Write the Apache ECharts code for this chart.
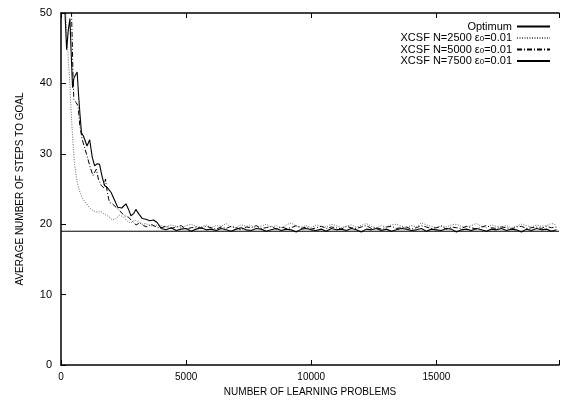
<!DOCTYPE html>
<html><head><meta charset="utf-8">
<script src="https://cdn.jsdelivr.net/npm/echarts@6/dist/echarts.min.js"></script>
<style>html,body{margin:0;padding:0;background:#fff}#c{width:562px;height:402px}</style>
</head><body><div id="c"></div>
<script>
var xTicks = [0, 5000, 10000, 15000];
var yTicks = [0, 10, 20, 30, 40, 50];
var optimumValue = 19;

var early2500X = [150, 230, 300, 360, 420, 480, 540, 610, 680, 760, 870, 1000, 1150, 1300, 1450, 1600, 1750, 1900, 2050, 2200, 2350, 2500, 2650, 2800, 2950, 3100, 3250, 3400, 3550, 3700, 3850];
var early2500Y = [53, 47, 43, 39.5, 35, 31.5, 28.5, 26.8, 25.5, 24.5, 23.6, 23.0, 22.3, 21.9, 21.7, 21.8, 21.4, 21.1, 20.6, 20.8, 21.3, 21.0, 20.4, 20.2, 20.6, 20.3, 20.0, 20.1, 19.8, 19.7, 19.9];

var early5000X = [380, 420, 450, 480, 514, 600, 684, 751, 850, 950, 1040, 1150, 1277, 1410, 1500, 1607, 1700, 1779, 1850, 1937, 2050, 2200, 2350, 2530, 2700, 2850, 3000, 3150, 3300, 3450, 3600, 3750, 3900];
var early5000Y = [53, 50, 46, 41, 37.7, 37.3, 36.8, 34, 32, 30.8, 29.7, 28.3, 26.9, 27.8, 26.3, 25.5, 25.2, 26.4, 24.5, 23.1, 22.9, 22.4, 21.9, 21.2, 21.0, 20.4, 19.9, 20.2, 19.8, 19.6, 20.0, 19.7, 19.5];

var early7500X = [120, 160, 225, 290, 356, 410, 462, 520, 580, 645, 700, 760, 818, 900, 1040, 1100, 1146, 1250, 1344, 1450, 1541, 1640, 1739, 1850, 2003, 2130, 2266, 2430, 2596, 2700, 2794, 2900, 2990, 3100, 3250, 3390, 3550, 3700, 3850];
var early7500Y = [53, 50, 44.8, 47.5, 49.2, 44, 39.4, 40.8, 41.2, 41.6, 38.5, 35.5, 33, 32.5, 31.1, 31.6, 32, 29.5, 28.3, 28.6, 28.5, 26.8, 25.5, 25.2, 24.5, 23.5, 22.4, 22.3, 22.9, 22.1, 21.2, 21.5, 22.1, 21.5, 20.8, 20.7, 20.5, 20.6, 20.2];

var steadyStart = 4000, steadyStep = 200;
var steady2500Y = [19.8,19.6,19.9,19.7,19.5,19.8,20.0,19.7,19.6,19.9,
19.5,19.8,19.7,20.1,19.6,19.5,19.9,19.7,19.8,19.4,
19.7,20.0,19.6,19.8,19.5,19.9,20.2,19.7,19.6,19.8,
19.5,19.9,19.7,19.6,20.0,19.8,19.5,19.7,19.9,19.6,
19.8,20.1,19.7,19.5,19.8,19.6,19.9,20.0,19.7,19.5,
19.8,19.6,20.2,19.9,19.7,19.5,19.8,19.6,19.9,20.0,
19.7,19.6,19.8,20.1,19.7,19.5,19.9,19.7,19.6,19.8,
19.5,19.7,20.0,19.8,19.6,19.9,19.7,19.8,20.1,19.9];
var steady5000Y = [19.5,19.7,19.4,19.6,19.8,19.3,19.5,19.6,19.4,19.7,
19.5,19.3,19.6,19.4,19.7,19.5,19.2,19.6,19.5,19.8,
19.4,19.5,19.7,19.3,19.6,19.4,19.5,19.8,19.4,19.6,
19.3,19.5,19.7,19.4,19.6,19.5,19.3,19.7,19.5,19.4,
19.6,19.8,19.4,19.5,19.3,19.6,19.7,19.4,19.5,19.6,
19.3,19.5,19.8,19.6,19.4,19.5,19.7,19.3,19.6,19.5,
19.4,19.7,19.5,19.3,19.6,19.8,19.5,19.4,19.6,19.5,
19.3,19.6,19.7,19.4,19.5,19.6,19.4,19.7,19.5,19.6];
var steady7500Y = [19.4,19.2,19.5,19.1,19.3,19.4,19.0,19.3,19.5,19.2,
19.3,19.1,19.4,19.2,19.0,19.3,19.5,19.2,19.1,19.4,
19.3,19.0,19.2,19.4,19.1,19.3,19.2,18.9,19.3,19.4,
19.2,19.1,19.3,19.0,19.4,19.2,19.3,19.1,19.4,19.2,
18.9,19.3,19.2,19.4,19.1,19.3,19.0,19.2,19.4,19.3,
19.1,19.2,19.4,19.0,19.3,19.2,19.1,19.4,19.3,18.9,
19.2,19.3,19.1,19.4,19.2,19.0,19.3,19.2,19.4,19.1,
19.3,19.2,18.9,19.3,19.1,19.4,19.2,19.3,19.0,19.2];

var seriesNames = ['Optimum', 'XCSF N=2500 ε0=0.01', 'XCSF N=5000 ε0=0.01', 'XCSF N=7500 ε0=0.01'];

function build(ex, ey, sy) {
  var out = [];
  for (var i = 0; i < ex.length; i++) out.push([ex[i], ey[i]]);
  for (var j = 0; j < sy.length; j++) out.push([steadyStart + j * steadyStep, sy[j]]);
  return out;
}
var XMAX = 19900;
var font = 'Liberation Sans, Arial, sans-serif';
var chart = echarts.init(document.getElementById('c'), null, {renderer: 'canvas'});
chart.setOption({
  animation: false,
  grid: {left: 61, right: 0, top: 13, bottom: 35},
  legend: {
    orient: 'vertical', right: 6, top: 16, align: 'right',
    itemWidth: 33, itemHeight: 8, itemGap: 0,
    itemStyle: {opacity: 0},
    formatter: function (n) { return n.replace('ε0', 'ε{sub|0}'); },
    textStyle: {fontFamily: font, fontSize: 11, color: '#000', lineHeight: 10,
      rich: {sub: {fontSize: 8, fontFamily: font, color: '#000', lineHeight: 10, verticalAlign: 'bottom', padding: [3, 0, 0, 0]}}},
    data: seriesNames
  },
  xAxis: [{
    type: 'value', min: 0, max: XMAX, interval: 5000,
    name: 'NUMBER OF LEARNING PROBLEMS', nameLocation: 'middle', nameGap: 22,
    nameTextStyle: {fontFamily: font, fontSize: 10, color: '#000'},
    axisLine: {show: true, lineStyle: {color: '#000', width: 1.5}},
    axisTick: {show: true, inside: true, length: 5, lineStyle: {color: '#000'}},
    axisLabel: {fontFamily: font, fontSize: 10, color: '#000', margin: 7,
      formatter: function (v) { return xTicks.indexOf(v) >= 0 ? String(v) : ''; }},
    splitLine: {show: false}
  }, {
    type: 'value', position: 'top', min: 0, max: XMAX, interval: 5000,
    axisLine: {show: true, lineStyle: {color: '#000', width: 1.5}},
    axisTick: {show: true, inside: true, length: 5, lineStyle: {color: '#000'}},
    axisLabel: {show: false}, splitLine: {show: false}
  }],
  yAxis: {
    type: 'value', min: 0, max: 50, interval: 10,
    name: 'AVERAGE NUMBER OF STEPS TO GOAL', nameLocation: 'middle', nameGap: 36,
    nameTextStyle: {fontFamily: font, fontSize: 10, color: '#000'},
    axisLine: {show: true, lineStyle: {color: '#000', width: 1.5}},
    axisTick: {show: true, inside: true, length: 5, lineStyle: {color: '#000'}},
    axisLabel: {fontFamily: font, fontSize: 11, color: '#000', margin: 9,
      formatter: function (v) { return yTicks.indexOf(v) >= 0 ? String(v) : ''; }},
    splitLine: {show: false}
  },
  series: [
    {name: seriesNames[0], type: 'line', symbol: 'none', data: [[0, optimumValue], [XMAX, optimumValue]],
      lineStyle: {color: '#000', width: 1}, itemStyle: {color: '#000'}},
    {name: seriesNames[1], type: 'line', symbol: 'none', data: build(early2500X, early2500Y, steady2500Y),
      lineStyle: {color: '#666', width: 1, type: [1, 1.5]}, itemStyle: {color: '#666'}},
    {name: seriesNames[2], type: 'line', symbol: 'none', data: build(early5000X, early5000Y, steady5000Y),
      lineStyle: {color: '#000', width: 1, type: [5, 2, 1, 2]}, itemStyle: {color: '#000'}},
    {name: seriesNames[3], type: 'line', symbol: 'none', data: build(early7500X, early7500Y, steady7500Y),
      lineStyle: {color: '#000', width: 1.1}, itemStyle: {color: '#000'}}
  ]
});
</script></body></html>
